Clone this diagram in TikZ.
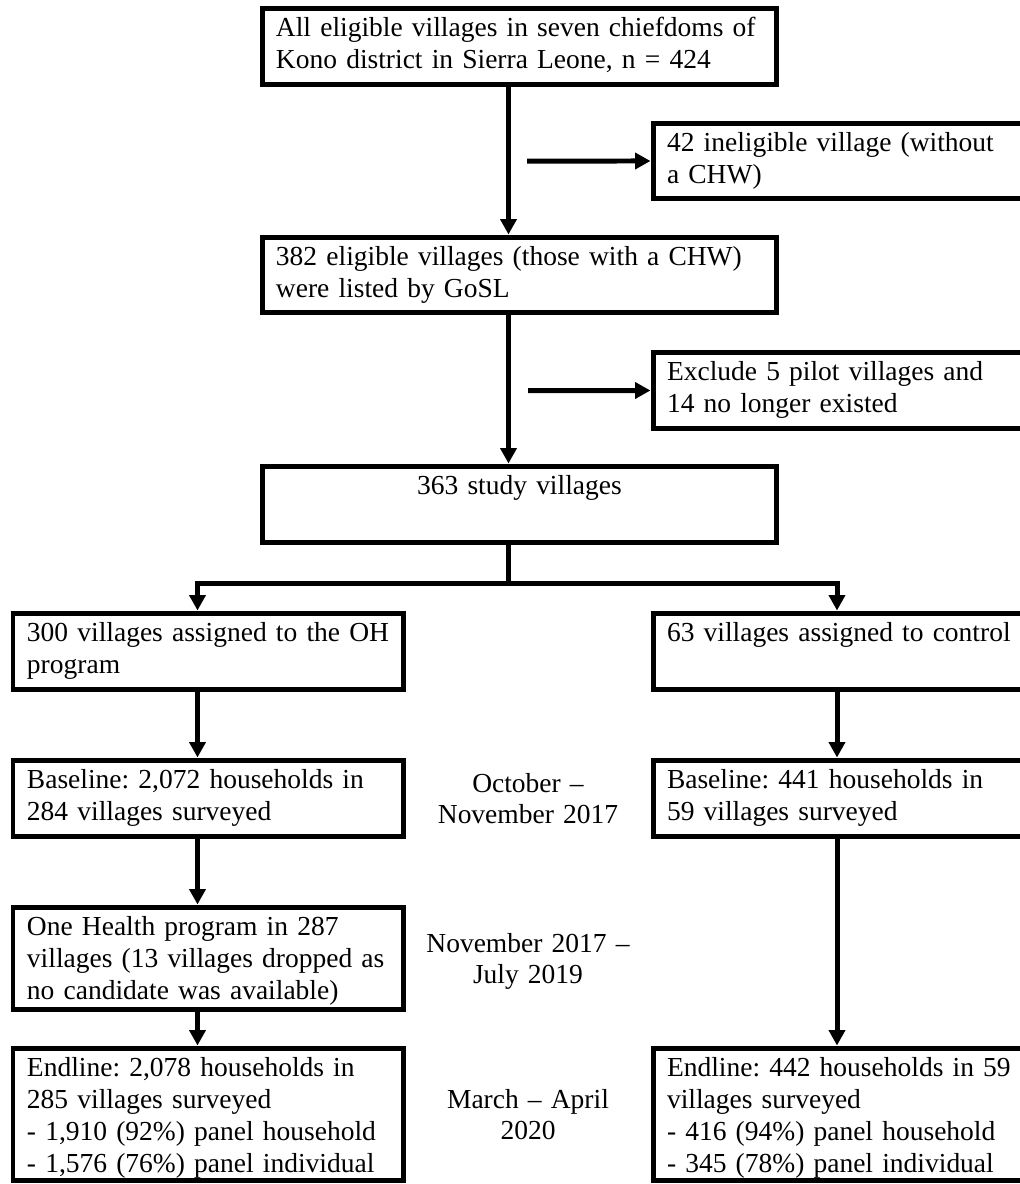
\documentclass[tikz,border=0pt]{standalone}
\usepackage{fontspec}
\setmainfont{Liberation Serif}
\usepackage{tikz}
\usetikzlibrary{arrows.meta}
\newcommand{\flowfont}{\fontsize{15.65pt}{18.2pt}\selectfont\frenchspacing}
\newcommand{\rows}[1]{\begin{tabular}[t]{@{}l@{}}#1\end{tabular}}

\begin{document}
\begin{tikzpicture}[x=0.02cm, y=-0.02cm, font=\flowfont,
    flowbox/.style 2 args={draw, line width=1mm, anchor=north west, align=left,
      inner xsep=2.8mm, inner ysep=0pt, text width=#1, text height=5.7mm, text depth=#2},
    period/.style={anchor=base, align=center, text width=5cm, inner sep=0pt},
    link/.style={line width=1mm},
    arrow/.style={link, -{Triangle[length=3.1mm, width=3.2mm]}}]
        \useasboundingbox (0,0) rectangle (1020,1184);
        \clip (0,0) rectangle (1020,1184);
        %
        \node[flowbox={9.74cm}{0.97cm}] (eligible) at (259.5,5.5) {\rows{All eligible villages in seven chiefdoms of\\Kono district in Sierra Leone, n = 424}};
        \node[flowbox={6.98cm}{0.95cm}] (ineligible) at (650.5,120.5) {\rows{42 ineligible village (without\\a CHW)}};
        \node[flowbox={9.74cm}{0.95cm}] (listed) at (259.5,234.5) {\rows{382 eligible villages (those with a CHW)\\were listed by GoSL}};
        \node[flowbox={6.98cm}{0.97cm}] (excluded) at (650.5,349.5) {\rows{Exclude 5 pilot villages and\\14 no longer existed}};
        \node[flowbox={9.74cm}{0.97cm}, align=center] (study) at (259.5,463.5) {\rows{363 study villages}};
        %
        \node[flowbox={7.26cm}{0.97cm}] (oh) at (10.5,610.5) {\rows{300 villages assigned to the OH\\program}};
        \node[flowbox={6.98cm}{0.97cm}] (ctrl) at (650.5,610.5) {\rows{63 villages assigned to control}};
        \node[flowbox={7.26cm}{0.97cm}] (baseL) at (10.5,757.5) {\rows{Baseline: 2,072 households in\\284 villages surveyed}};
        \node[flowbox={6.98cm}{0.97cm}] (baseR) at (650.5,757.5) {\rows{Baseline: 441 households in\\59 villages surveyed}};
        \node[flowbox={7.26cm}{1.49cm}] (prog) at (10.5,904.5) {\rows{One Health program in 287\\villages (13 villages dropped as\\no candidate was available)}};
        \node[flowbox={7.26cm}{2.09cm}] (endL) at (10.5,1045.5) {\rows{Endline: 2,078 households in\\285 villages surveyed\\- 1,910 (92\%) panel household\\- 1,576 (76\%) panel individual}};
        \node[flowbox={6.98cm}{2.09cm}] (endR) at (650.5,1045.5) {\rows{Endline: 442 households in 59\\villages surveyed\\- 416 (94\%) panel household\\- 345 (78\%) panel individual}};
        %
        \node[period] (oct) at (528,792) {October --\\November 2017};
        \node[period] (nov) at (528,952) {November 2017 --\\July 2019};
        \node[period] (mar) at (528,1108) {March -- April\\2020};
        %
        \coordinate (col) at (508.5,0);
        \coordinate (lcol) at (197.5,0);
        \coordinate (rcol) at (837,0);
        \coordinate (split) at (508.5,583);
        \coordinate (gap1) at (527,161);
        \coordinate (gap2) at (528,390.5);
        %
        \draw[arrow] (col |- eligible.south) -- (col |- listed.north);
        \draw[arrow] (gap1) -- (ineligible.west);
        \draw[arrow] (col |- listed.south) -- (col |- study.north);
        \draw[arrow] (gap2) -- (excluded.west);
        \draw[link] (col |- study.south) -- (split);
        \draw[arrow] (split) -| (lcol |- oh.north);
        \draw[arrow] (split) -| (rcol |- ctrl.north);
        %
        \draw[arrow] (lcol |- oh.south) -- (lcol |- baseL.north);
        \draw[arrow] (lcol |- baseL.south) -- (lcol |- prog.north);
        \draw[arrow] (lcol |- prog.south) -- (lcol |- endL.north);
        \draw[arrow] (rcol |- ctrl.south) -- (rcol |- baseR.north);
        \draw[arrow] (rcol |- baseR.south) -- (rcol |- endR.north);
      \end{tikzpicture}
\end{document}
